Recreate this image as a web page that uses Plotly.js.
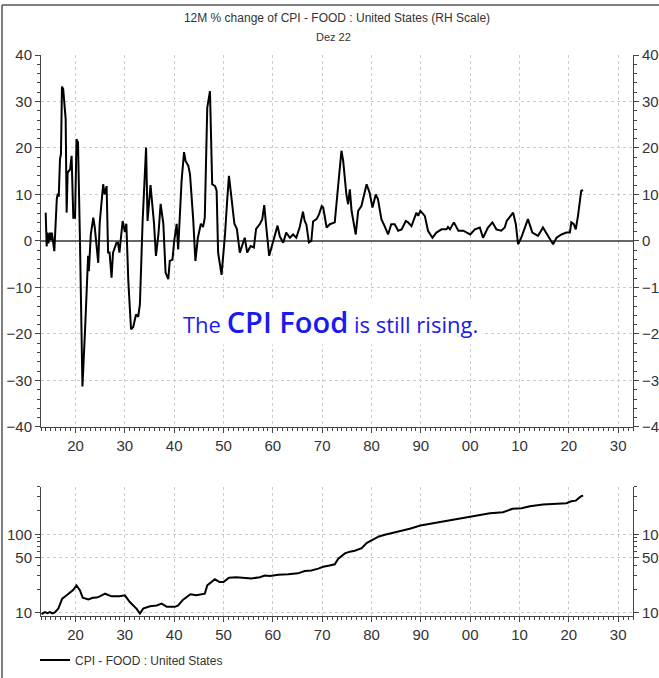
<!DOCTYPE html>
<html>
<head>
<meta charset="utf-8">
<script src="https://cdn.plot.ly/plotly-3.0.1.min.js"></script>
<style>html,body{margin:0;padding:0;background:#fff;}#chart{width:659px;height:678px;}</style>
</head>
<body>
<div id="chart"></div>
<script>
// 12M % change of CPI - FOOD : United States
const chgYears = [1913.95,1914.15,1914.3,1914.5,1914.8,1915.0,1915.2,1915.7,1916.2,1916.4,1916.6,1916.85,1917.05,1917.25,1917.5,1918.0,1918.2,1918.4,1918.9,1919.2,1919.55,1919.9,1920.2,1920.5,1920.9,1921.4,1921.95,1922.4,1922.55,1922.7,1922.9,1923.1,1923.6,1923.9,1924.6,1924.9,1925.6,1925.9,1926.3,1926.6,1926.9,1927.3,1927.6,1928.3,1928.6,1928.9,1929.55,1930.0,1930.3,1930.7,1931.25,1931.7,1932.25,1932.7,1933.05,1933.6,1934.3,1934.6,1935.2,1935.9,1936.3,1936.8,1937.25,1937.8,1938.25,1938.8,1939.1,1939.65,1940.0,1940.5,1940.8,1941.15,1941.5,1942.0,1942.3,1942.85,1943.2,1943.85,1944.3,1944.8,1945.4,1945.85,1946.2,1946.7,1947.25,1947.7,1948.3,1948.6,1948.9,1949.6,1950.3,1950.75,1951.1,1951.7,1952.2,1952.7,1953.3,1954.3,1954.8,1955.5,1956.15,1956.6,1957.4,1957.85,1958.25,1958.7,1959.25,1959.9,1960.4,1960.95,1961.4,1962.1,1962.7,1963.45,1964.1,1964.75,1965.45,1966.1,1966.45,1966.8,1967.3,1967.8,1968.15,1968.85,1969.35,1969.9,1970.2,1970.9,1971.55,1972.55,1973.2,1973.9,1974.25,1974.9,1975.25,1975.6,1975.95,1976.8,1977.3,1977.95,1979.0,1979.6,1980.2,1980.85,1981.3,1982.0,1982.65,1983.35,1984.0,1984.7,1985.4,1986.1,1986.95,1987.4,1988.1,1989.1,1989.45,1989.9,1990.8,1991.45,1992.35,1993.15,1994.2,1995.2,1995.5,1995.9,1996.7,1997.6,1998.6,2000.0,2000.95,2001.95,2002.6,2003.6,2004.5,2005.3,2006.3,2007.0,2007.4,2008.7,2009.25,2009.7,2010.35,2011.7,2012.6,2013.75,2014.75,2015.4,2016.8,2017.5,2018.5,2019.5,2020.2,2020.5,2021.0,2021.4,2021.85,2022.5,2022.9];
const chgValues = [6.1,-1.2,1.8,-0.5,1.8,0.2,1.8,-2.2,9,10.2,9.5,17.6,18.7,33.2,32.7,26.2,6.1,14.7,15.4,18.3,5,5,21.9,21.2,0,-31.3,-18.7,-6.8,-3.2,-6.5,-1,1.5,5,2.9,-4.7,3.9,12.2,10,11.8,-2.5,-2.5,-7.9,-2.5,-0.4,-0.4,-2.5,4.3,1.9,3.7,-8.6,-19,-18.5,-15.8,-16.3,-13.6,4.3,20.1,4.3,12,3.9,-3.2,1.4,8,3.7,-6.8,-8.2,-4.3,-4,0,3.7,-1.8,6.5,13,19.1,17.2,16.2,14.4,4.7,-4.3,0.7,3.7,3,5,28.7,32.2,12.2,11.8,10.8,-2.5,-7.3,1.4,8.9,14,8.4,3.7,2.6,-2.5,0.7,-2.5,-1.1,-1.4,2.6,3.7,4.7,7.7,2.6,-3.2,-0.7,1,3.3,1,-0.4,1.8,0.7,1.4,0.7,3,6.3,4.3,3.5,-0.3,0,4.2,4.7,5.7,7.5,7.2,2.9,3.6,4,11.5,19.4,17.2,10,7.9,11.1,6.5,1.4,6.5,7.5,12.2,10.4,7.2,10,9,4.7,3.2,1.4,3.6,3.6,2.2,2.5,4.3,4,3.2,6.1,5.4,6.5,5.4,2.2,0.7,1.8,2.5,2.5,3,2.5,4,2.2,2.2,1.4,2.5,2.9,0.7,2.9,4,2.5,2.2,2.9,4.3,6.1,3.6,-0.7,0.7,4.7,1.8,1.1,2.9,1.8,-0.7,0.7,1.4,1.8,1.8,4,3.6,2.5,5.4,10.8,10.9];

// CPI - FOOD : United States index level (log scale)
const idxYears = [1913.1,1913.8,1914.3,1914.8,1915.3,1915.8,1916.5,1917.3,1918.2,1918.9,1919.5,1920.2,1920.9,1921.45,1922.6,1923.5,1924.3,1924.9,1926.0,1927.3,1928.9,1930.0,1931.0,1932.35,1933.05,1933.7,1935.1,1936.45,1937.45,1938.5,1940.15,1940.8,1941.8,1943.3,1944.5,1946.2,1946.7,1948.25,1949.2,1950.0,1951.1,1952.6,1953.95,1955.65,1957.35,1958.4,1959.4,1961.1,1963.1,1965.1,1966.45,1967.8,1969.2,1970.2,1971.5,1972.55,1973.25,1974.6,1975.6,1976.6,1978.0,1979.0,1980.0,1981.5,1982.7,1984.05,1985.7,1987.75,1989.9,1991.8,1993.85,1996.55,1999.25,2001.3,2004.0,2006.65,2008.6,2010.4,2012.1,2014.75,2017.5,2019.5,2020.5,2021.4,2022.5,2022.9];
const idxValues = [9.6,10.2,9.9,10.2,9.8,10.1,11.3,15.1,16.7,18.4,19.5,22.3,19.3,15.6,14.8,15.5,15.6,16.2,17.5,16.2,16.2,16.7,13.7,11.3,9.8,11.3,12.1,12.4,13.1,11.9,11.9,12.4,14.7,17.2,16.7,17.5,22.3,26.7,24.6,24.6,28,28.4,28,27.3,28.4,29.9,29.5,30.6,30.9,31.8,34,34.5,36.5,38.6,40.1,41.5,48.9,57,60,61.6,66.6,77.1,83.4,93.7,98.6,103.3,108.6,117.5,129.4,135.9,142.6,154.3,162,173.5,185.5,191,210.9,214.7,227.6,239.1,244,248.3,263,268,305,310];

const decadeTicks = [1920,1930,1940,1950,1960,1970,1980,1990,2000,2010,2020,2030];
const decadeLabels = ['20','30','40','50','60','70','80','90','00','10','20','30'];
const topTicks = [-40,-30,-20,-10,0,10,20,30,40];
const logTicks = [10,50,100];
const logMinor = [20,30,40,60,70,80,90,200,300,400];

const FONT = '"Liberation Sans Narrow", "Arial Narrow", "Liberation Sans", Arial, sans-serif';
const tickFont = {family: FONT, size: 15, color: '#333'};
const gridStyle = {showgrid: true, gridcolor: '#cccccc', griddash: 'dot', gridwidth: 1};

const xBase = Object.assign({
  range: [1913, 2033], tickmode: 'array', tickvals: decadeTicks, ticktext: decadeLabels,
  ticks: 'outside', ticklen: 5, tickcolor: '#444', showline: true, linecolor: '#444', linewidth: 1,
  tickfont: tickFont, zeroline: false,
  minor: {tickmode: 'linear', tick0: 1913, dtick: 1, ticks: 'outside', ticklen: 3, tickcolor: '#444', showgrid: false}
}, gridStyle);

const yTopBase = {
  range: [-40, 40], tickmode: 'array', tickvals: topTicks, ticks: 'outside', ticklen: 5,
  tickcolor: '#444', showline: true, linecolor: '#444', linewidth: 1, tickfont: tickFont,
  minor: {tickmode: 'linear', tick0: 0, dtick: 2, ticks: 'outside', ticklen: 3, tickcolor: '#444', showgrid: false}
};

const yLogBase = {
  type: 'log', range: [Math.log10(9.1), Math.log10(400)], tickmode: 'array', tickvals: logTicks,
  ticktext: ['10','50','100'], ticks: 'outside', ticklen: 5, tickcolor: '#444', showline: true,
  linecolor: '#444', linewidth: 1, tickfont: tickFont, zeroline: false,
  minor: {tickmode: 'array', tickvals: logMinor, ticks: 'outside', ticklen: 3, tickcolor: '#444', showgrid: false}
};

const traces = [
  {x: chgYears, y: chgValues, xaxis: 'x', yaxis: 'y2', type: 'scatter', mode: 'lines',
   line: {color: '#000', width: 2}, showlegend: false, hoverinfo: 'skip'},
  {x: [null], y: [null], xaxis: 'x', yaxis: 'y', type: 'scatter', mode: 'lines', showlegend: false, hoverinfo: 'skip'},
  {x: idxYears, y: idxValues, xaxis: 'x2', yaxis: 'y3', type: 'scatter', mode: 'lines',
   name: 'CPI - FOOD : United States', line: {color: '#000', width: 2}, hoverinfo: 'skip'},
  {x: [null], y: [null], xaxis: 'x2', yaxis: 'y4', type: 'scatter', mode: 'lines', showlegend: false, hoverinfo: 'skip'}
];

const layout = {
  width: 659, height: 678,
  margin: {l: 41, r: 26, t: 55, b: 62, pad: 0, autoexpand: false},
  paper_bgcolor: '#fff', plot_bgcolor: '#fff',
  font: {family: FONT, color: '#333'},
  title: {text: '12M % change of CPI - FOOD : United States (RH Scale)', font: {family: FONT, size: 12, color: '#333'},
          x: 0.5, xref: 'paper', xanchor: 'center', y: 1 - 18/678, yref: 'container', yanchor: 'middle'},
  xaxis: Object.assign({}, xBase, {domain: [0, 1], anchor: 'y'}),
  yaxis: Object.assign({}, yTopBase, gridStyle, {domain: [0.337, 1], anchor: 'x', side: 'left',
         zeroline: true, zerolinecolor: '#666', zerolinewidth: 1.5}),
  yaxis2: Object.assign({}, yTopBase, {overlaying: 'y', side: 'right', anchor: 'x', showgrid: false, zeroline: false}),
  xaxis2: Object.assign({}, xBase, {domain: [0, 1], anchor: 'y3', matches: 'x'}),
  yaxis3: Object.assign({}, yLogBase, gridStyle, {domain: [0, 0.23], anchor: 'x2', side: 'left'}),
  yaxis4: Object.assign({}, yLogBase, {overlaying: 'y3', side: 'right', anchor: 'x2', showgrid: false}),
  showlegend: true,
  legend: {orientation: 'h', x: -6 / 592, xanchor: 'left', y: -44 / 561, yanchor: 'middle',
           font: {family: FONT, size: 12, color: '#333'}, bgcolor: 'rgba(0,0,0,0)'},
  annotations: [
    {xref: 'paper', yref: 'paper', x: (333 - 41) / 592, y: (616 - 37) / 561, xanchor: 'center', yanchor: 'middle',
     text: 'Dez 22', showarrow: false, font: {family: FONT, size: 11, color: '#333'}},
    {xref: 'x', yref: 'y', x: 1941.0, y: -17.3, xanchor: 'left', yanchor: 'middle', showarrow: false,
     bgcolor: '#fff', borderpad: 3,
     text: 'The <span style="font-size:29px;font-weight:600">CPI Food</span> is still rising.',
     font: {family: '"Open Sans", "Noto Sans", sans-serif', size: 22, color: '#1a1aee'}}
  ],
  shapes: [
    {type: 'line', xref: 'paper', yref: 'paper', x0: (2 - 41) / 592, x1: (2 - 41) / 592, y0: (616 - 678) / 561, y1: (616 - 5) / 561,
     line: {color: '#555', width: 1.5}},
    {type: 'line', xref: 'paper', yref: 'paper', x0: (2 - 41) / 592, x1: (659 - 41) / 592, y0: (616 - 5) / 561, y1: (616 - 5) / 561,
     line: {color: '#555', width: 1.5}}
  ]
};

Plotly.newPlot('chart', traces, layout, {displayModeBar: false, staticPlot: true});
</script>
</body>
</html>
